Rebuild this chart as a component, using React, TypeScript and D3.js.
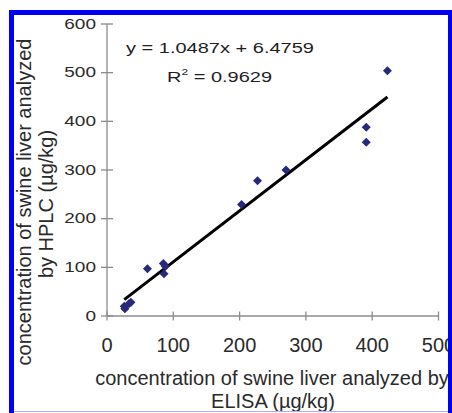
import React from "react";
import * as d3 from "d3";

const elisa = [423, 391, 391, 270, 227, 203, 61, 85, 88, 86, 27, 26, 33, 36];
const hplc = [504, 388, 357, 300, 278, 229, 97, 108, 102, 87, 15, 20, 25, 28];
const xTicks = [0, 100, 200, 300, 400, 500];
const yTicks = [0, 100, 200, 300, 400, 500, 600];
const slope = 1.0487;
const intercept = 6.4759;
const eqText = "y = 1.0487x + 6.4759";
const r2Value = "0.9629";
const xTitle = ["concentration of swine liver analyzed by", "ELISA (µg/kg)"];
const yTitle = ["concentration of swine liver analyzed", "by HPLC (µg/kg)"];

export default function App() {
  const W = 452, H = 413;
  const x = d3.scaleLinear().domain([0, 500]).range([107, 438.5]);
  const y = d3.scaleLinear().domain([0, 600]).range([316, 24]);
  const font = "'Liberation Sans', Arial, sans-serif";
  const sq = 0.74;
  const axisColor = "#8c8c8c";
  const textColor = "#2a2a2a";
  const x0 = d3.min(elisa)!, x1 = d3.max(elisa)!;
  const line = d3.line<number>().x((d) => x(d)).y((d) => y(slope * d + intercept));
  const diamond = d3.symbol().type(d3.symbolDiamond2).size(52)();
  return (
    <svg width={W} height={H} style={{ position: "absolute", left: 0, top: 0, background: "#fff" }} fontFamily={font}>
      <rect x={0} y={0} width={W} height={H} fill="#fff" />
      {/* axes */}
      <line x1={x(0)} x2={x(0)} y1={y(600)} y2={y(0)} stroke={axisColor} strokeWidth={1.3} />
      <line x1={x(0)} x2={x(500)} y1={y(0)} y2={y(0)} stroke={axisColor} strokeWidth={1.3} />
      {yTicks.map((t) => (
        <g key={"yt" + t}>
          <line x1={x(0) - 6} x2={x(0) + 6} y1={y(t)} y2={y(t)} stroke={axisColor} strokeWidth={1.3} />
          <text transform={`translate(${x(0) - 11},${y(t) + 4.8}) scale(1,${sq})`} textAnchor="end" fontSize={19} fill={textColor}>{t}</text>
        </g>
      ))}
      {xTicks.map((t) => (
        <g key={"xt" + t}>
          <line x1={x(t)} x2={x(t)} y1={y(0) - 4.5} y2={y(0) + 4.5} stroke={axisColor} strokeWidth={1.3} />
          <text x={x(t)} y={352} textAnchor="middle" fontSize={20} fill={textColor}>{t}</text>
        </g>
      ))}
      {/* regression line */}
      <path d={line([x0, x1]) || ""} stroke="#000" strokeWidth={3} fill="none" />
      {/* points */}
      {elisa.map((v, i) => (
        <path key={"p" + i} d={diamond || ""} transform={`translate(${x(v)},${y(hplc[i])})`} fill="#27297a" />
      ))}
      {/* equation */}
      <text transform={`translate(126,52.5) scale(1,${sq})`} fontSize={20} fill="#1e1e1e" textLength={188} lengthAdjust="spacingAndGlyphs">{eqText}</text>
      <text transform={`translate(167,82) scale(1,${sq})`} fontSize={20} fill="#1e1e1e">
        R<tspan fontSize={12} dy={-9}>2</tspan><tspan dy={9}>{" = " + r2Value}</tspan>
      </text>
      {/* axis titles */}
      <text x={272} y={385} textAnchor="middle" fontSize={20} fill={textColor}>{xTitle[0]}</text>
      <text x={273} y={407.5} textAnchor="middle" fontSize={20} fill={textColor}>{xTitle[1]}</text>
      <text transform="translate(30.5,202) rotate(-90)" textAnchor="middle" fontSize={20} fill={textColor}>{yTitle[0]}</text>
      <text transform="translate(53,204) rotate(-90)" textAnchor="middle" fontSize={20} fill={textColor}>{yTitle[1]}</text>
      {/* frame */}
      <line x1={9} x2={452} y1={411.5} y2={411.5} stroke="#aab0ff" strokeWidth={1} />
      <rect x={11.5} y={12.5} width={439} height={412} fill="none" stroke="#0000f5" strokeWidth={5} />
    </svg>
  );
}
